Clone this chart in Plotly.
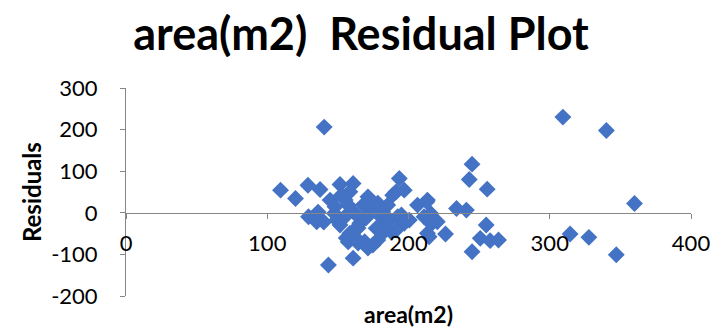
import plotly.graph_objects as go

# area (m2) and residuals
area = [109.4, 120.0, 128.8, 137.4, 129.2, 135.0, 136.0, 140.0, 140.3, 143.3,
        151.5, 160.8, 158.5, 160.8, 157.3, 144.5, 148.0, 158.5, 155.9, 164.3,
        169.0, 173.4, 178.3, 180.4, 186.5, 192.3, 200.6, 187.7, 181.8, 177.1,
        165.5, 162.0, 155.0, 149.1, 151.5, 147.5, 211.0, 215.7, 213.4, 214.6,
        171.3, 167.8, 193.5, 191.2, 197.0, 206.4, 213.4, 197.0, 191.2, 152.4,
        157.3, 178.3, 171.3, 174.8, 163.0, 164.3, 185.3, 181.8, 188.8, 155.2,
        215.7, 213.0, 217.0, 226.2, 234.0, 241.0, 243.0, 245.0, 255.7, 255.0,
        250.8, 257.8, 263.7, 245.0, 309.3, 340.1, 360.0, 314.4, 327.7, 347.1,
        220.4, 162.0, 170.0, 183.0, 195.0]
residuals = [54.4, 34.5, 66.4, 56.0, -9.6, -21.6, 1.7, -22.0, 206.0, -125.4,
             68.0, 70.5, 50.4, -109.0, -70.0, 30.5, 14.4, -49.4, -60.7, -72.7,
             -69.5, 6.5, 23.3, -9.6, -17.5, -9.6, -17.5, -45.6, -48.7, -37.4,
             -25.4, -1.4, -9.6, -17.5, -29.5, -1.4, -9.6, -25.4, -49.4, -57.6,
             38.4, 18.5, 82.5, 50.4, 54.4, 18.5, 30.5, -25.4, -41.5, 42.4,
             18.5, -65.5, -84.7, -77.5, -61.4, -36.7, 18.5, 1.7, 42.4, 30.5,
             -1.4, 26.4, -24.0, -51.0, 10.5, 6.5, 80.0, 117.0, 56.8, -29.5,
             -61.4, -67.0, -65.5, -93.5, 230.0, 198.0, 22.5, -51.0, -59.0, -100.7,
             -21.6, -40.0, -12.0, -30.0, -5.0]

x_ticks = [0, 100, 200, 300, 400]
y_ticks = [-200, -100, 0, 100, 200, 300]
y_tick_labels = ["-200", "-100", "0", "100", "200", "300"]

FONT = "Lato"
AXIS = "#868686"

fig = go.Figure(go.Scatter(
    x=area, y=residuals, mode="markers",
    marker=dict(symbol="diamond", size=13, color="#4472C4", line=dict(width=0)),
    showlegend=False,
))

fig.update_layout(
    width=722, height=331,
    margin=dict(l=126, r=26, t=88, b=35),
    paper_bgcolor="white", plot_bgcolor="white",
    font=dict(family=FONT, color="black"),
    title=dict(text="<b>area(m2)  Residual Plot</b>", x=0.5, xref="container",
               xanchor="center", y=1 - 34 / 331, yref="container", yanchor="middle",
               font=dict(family=FONT, size=45, color="black")),
    xaxis=dict(range=[0, 400], tickvals=x_ticks, showgrid=False, zeroline=False,
               showline=True, linecolor=AXIS, linewidth=1, ticks="outside",
               ticklen=5, tickcolor=AXIS, anchor="free", position=0.4,
               tickfont=dict(family=FONT, size=22, color="black"),
               ticklabelstandoff=6),
    yaxis=dict(range=[-200, 300], tickvals=y_ticks, ticktext=y_tick_labels,
               showgrid=False, zeroline=False,
               showline=True, linecolor=AXIS, linewidth=1, ticks="outside",
               ticklen=5, tickcolor=AXIS,
               tickfont=dict(family=FONT, size=22, color="black"),
               ticklabelstandoff=18),
    annotations=[
        dict(text="<b>Residuals</b>", x=-0.168, y=0.5, xref="paper", yref="paper",
             textangle=-90, showarrow=False, xanchor="center", yanchor="middle",
             font=dict(family=FONT, size=24, color="black")),
        dict(text="<b>area(m2)</b>", x=0.5, y=-0.088, xref="paper", yref="paper",
             showarrow=False, xanchor="center", yanchor="middle",
             font=dict(family=FONT, size=23, color="black")),
    ],
)

fig.write_html("out.html")
